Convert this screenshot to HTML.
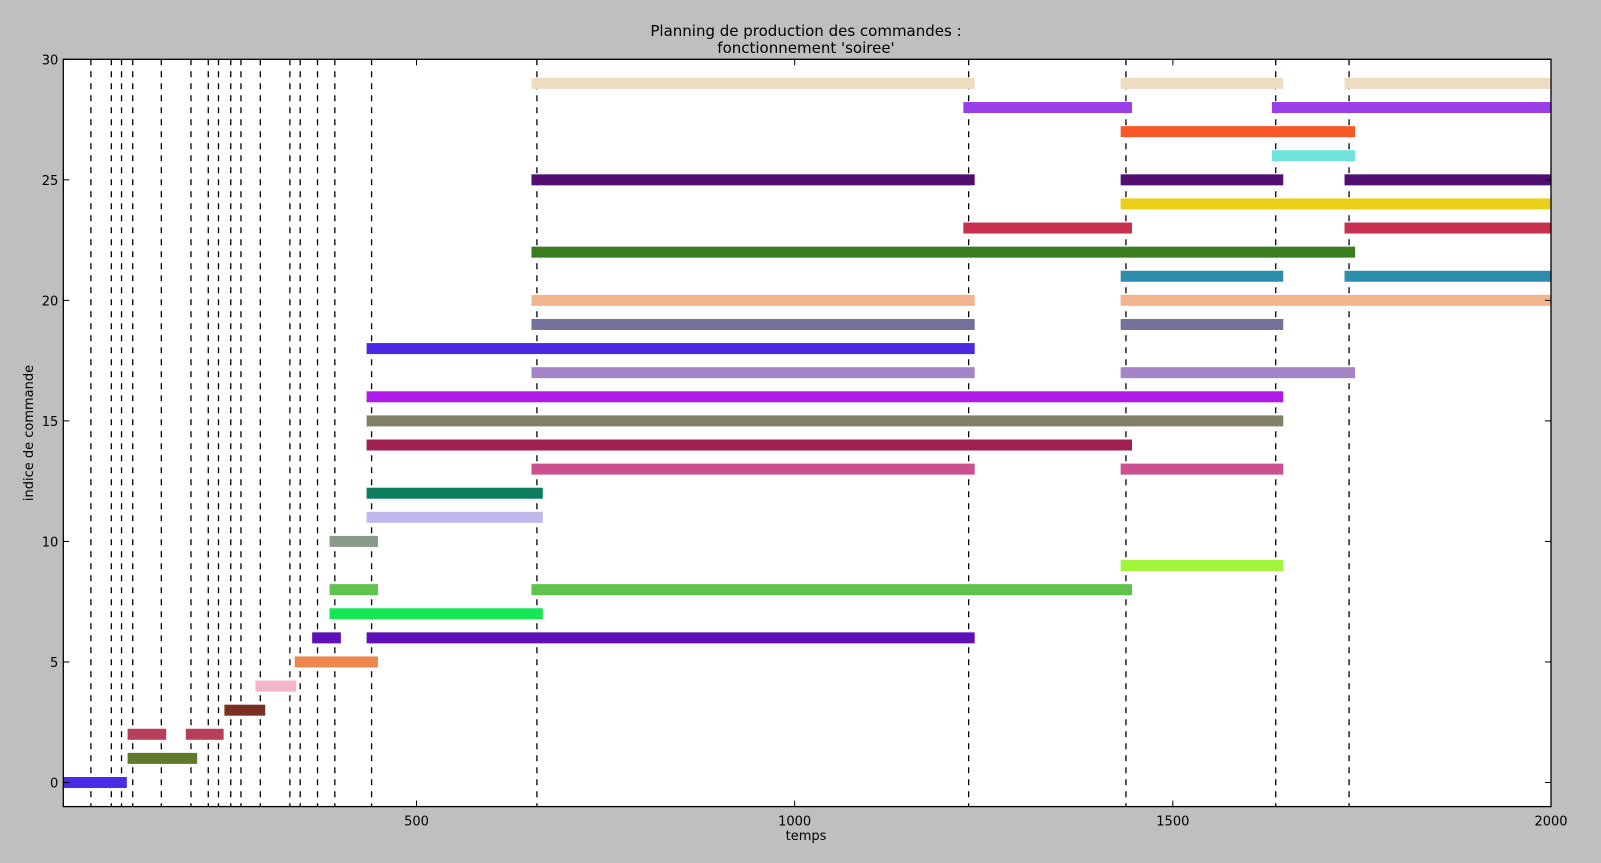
<!DOCTYPE html>
<html><head><meta charset="utf-8"><style>
body{margin:0;background:#bfbfbf;width:1601px;height:858px;overflow:hidden;font-family:"Liberation Sans","DejaVu Sans",sans-serif}
svg text{font-family:"DejaVu Sans","Liberation Sans",sans-serif}
</style></head><body>
<svg id="chart" width="1601" height="858" xmlns="http://www.w3.org/2000/svg">
<rect x="0" y="0" width="1601" height="858" fill="#bfbfbf"/>
<text x="806" y="36" font-size="15" text-anchor="middle">Planning de production des commandes :</text>
<text x="806" y="53" font-size="15" text-anchor="middle">fonctionnement 'soiree'</text>
<rect x="63.3" y="59.3" width="1487.7" height="747.3" fill="#fff"/>
<g id="vlines"></g>
<g id="bars"></g>
<g id="axes"></g>
<text x="806" y="840" font-size="13" text-anchor="middle">temps</text>
<text transform="translate(33,433) rotate(-90)" font-size="13" text-anchor="middle">indice de commande</text>
</svg>
<script>
const xTicks=[500,1000,1500,2000];
const yTicks=[0,5,10,15,20,25,30];
const markerTimes=[69.5,96.5,110,124.8,162.6,201.8,224.7,238.2,254.4,267.9,293.5,332.6,346.2,369.1,392,440.6,659.2,1230,1438,1636,1733];
const barOrder=[0,1,2,2,3,4,5,6,6,7,8,8,9,10,11,12,13,13,14,15,16,17,17,18,19,19,20,20,21,21,22,23,23,24,25,25,25,26,27,28,28,29,29,29];
const barStart=[33,118,118,195,246,287,339,362,434,385,385,652,1431,385,434,434,652,1431,434,434,434,652,1431,434,652,1431,652,1431,1431,1727,652,1223,1727,1431,652,1431,1727,1631,1431,1223,1631,652,1431,1727];
const barEnd=[117,210,169,245,300,341,449,400,1238,667,449,1446,1646,449,667,667,1238,1646,1446,1646,1646,1238,1741,1238,1238,1646,1238,2000,1646,2000,1741,1446,2000,2000,1238,1646,2000,1741,1741,1446,2000,1238,1646,2000];
const barColors=["#4a2be8","#5e7a2a","#b83f5a","#7a3020","#f4b6c6","#ee8650","#6010b8","#17e655","#5fc24a","#a3f53c","#8a9a8a","#c0b8ec","#0c7e5e","#cc5090","#a0204f","#848068","#b01ae8","#a584c8","#4a28e4","#74729a","#f2b48c","#2e8cac","#3a7c20","#c83050","#e8d018","#520e70","#70e4dc","#f85828","#9a40e8","#eedcc0"];
const L=63.3,R=1551,T=59.3,B=806.6;
const xMin=33,xMax=2000,yMin=-1,yMax=30;
const X=v=>L+(v-xMin)/(xMax-xMin)*(R-L);
const Y=v=>B-(v-yMin)/(yMax-yMin)*(B-T);
const NS="http://www.w3.org/2000/svg";
function mk(t,a,p){const e=document.createElementNS(NS,t);for(const k in a)e.setAttribute(k,a[k]);p.appendChild(e);return e;}
const gb=document.getElementById('bars');
for(let i=0;i<barOrder.length;i++){
  const x0=Math.max(X(barStart[i]),L),x1=Math.min(X(barEnd[i]),R);
  const r=mk('rect',{x:x0,y:Y(barOrder[i])-5.5,width:x1-x0,height:11,fill:barColors[barOrder[i]]},gb);
  
  
}
const gv=document.getElementById('vlines');
markerTimes.forEach(t=>{
  const l=mk('line',{x1:X(t),x2:X(t),y1:T,y2:B,stroke:'#000','stroke-width':1.3,'stroke-dasharray':'6,6'},gv);
  
  
});
const ga=document.getElementById('axes');
mk('rect',{x:L,y:T,width:R-L,height:B-T,fill:'none',stroke:'#000','stroke-width':1.3},ga);
xTicks.forEach(v=>{
  const x=X(v);
  mk('line',{x1:x,x2:x,y1:B,y2:B-6,stroke:'#000'},ga);
  mk('line',{x1:x,x2:x,y1:T,y2:T+6,stroke:'#000'},ga);
  const t=mk('text',{x:x,y:B+19,'font-size':13,'text-anchor':'middle'},ga);t.textContent=v;
  
  
});
yTicks.forEach(v=>{
  const y=Y(v);
  mk('line',{x1:L,x2:L+6,y1:y,y2:y,stroke:'#000'},ga);
  mk('line',{x1:R,x2:R-6,y1:y,y2:y,stroke:'#000'},ga);
  const t=mk('text',{x:L-5,y:y+5,'font-size':13,'text-anchor':'end'},ga);t.textContent=v;
  
  
});
</script>
</body></html>
